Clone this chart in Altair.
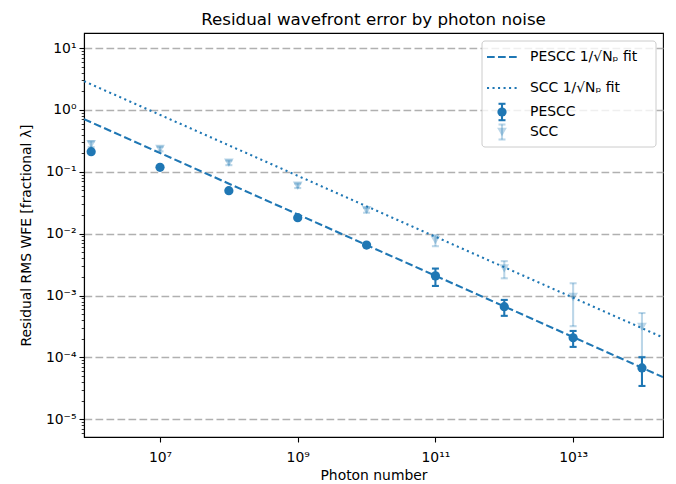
import altair as alt
import pandas as pd

# ---------------- data ----------------
photons = [1e6, 1e7, 1e8, 1e9, 1e10, 1e11, 1e12, 1e13, 1e14]
pescc_wfe = [0.211, 0.118, 0.0494, 0.0181, 0.00654, 0.00208, 0.00066, 0.000208, 0.0000676]
pescc_err = [0.006, 0.003, 0.0012, 0.0005, 0.0003, 0.00065, 0.00019, 0.00006, 0.000033]
scc_wfe = [0.28, 0.234, 0.14, 0.0596, 0.024, 0.00787, 0.00275, 0.00095, 0.000312]
scc_err = [0.03, 0.02, 0.012, 0.005, 0.0022, 0.0016, 0.00085, 0.00063, 0.00021]

fit_photons = [7.87e5, 2.02e14]
pescc_fit = [0.71, 4.8e-5]
scc_fit = [2.91, 2.1e-4]

legend_labels = ["PESCC 1/√Nₚ fit", "SCC 1/√Nₚ fit", "PESCC", "SCC"]
x_ticks = [1e7, 1e9, 1e11, 1e13]
y_major = [1e-5, 1e-4, 1e-3, 1e-2, 1e-1, 1e0, 1e1]
x_range = [7.87e5, 2.02e14]
y_range = [5.18e-6, 17.48]

# ---------------- styling ----------------
BLUE = "#1f77b4"
FONT = "DejaVu Sans"
SUP = {"0": "⁰", "1": "¹", "2": "²", "3": "³", "4": "⁴", "5": "⁵",
       "6": "⁶", "7": "⁷", "8": "⁸", "9": "⁹", "-": "⁻"}
DASH = [7.7, 3.3]
DOT = [2.08, 3.43]
LW = 2.08


def sup_label(e):
    return "10" + "".join(SUP[c] for c in str(e))


EXP = "round(log(datum.value)/LN10)"
MAJOR = f"abs(log(datum.value)/LN10 - {EXP}) < 1e-6"


def label_chain(exps):
    return " : ".join(f"{EXP} == {e} ? '{sup_label(e)}'" for e in exps) + " : ''"


x_exps = [7, 9, 11, 13]
y_exps = [-5, -4, -3, -2, -1, 0, 1]

y_ticks = []
for e in range(-6, 2):
    for m in range(1, 10):
        v = m * 10.0 ** e
        if y_range[0] <= v <= y_range[1]:
            y_ticks.append(v)

x_scale = alt.Scale(type="log", domain=x_range, nice=False)
y_scale = alt.Scale(type="log", domain=y_range, nice=False)

x_axis = alt.Axis(values=x_ticks, labelExpr=label_chain(x_exps), title="Photon number",
                  grid=False, tickSize=5, tickWidth=1.1, labelPadding=8, titlePadding=5)
y_axis = alt.Axis(values=y_ticks, labelExpr=f"{MAJOR} ? ({label_chain(y_exps)}) : ''",
                  title="Residual RMS WFE [fractional λ]",
                  grid=True, gridColor="#b0b0b0", gridDash=DASH, gridWidth=1.6,
                  gridOpacity={"condition": {"test": MAJOR, "value": 1}, "value": 0},
                  tickSize={"condition": {"test": MAJOR, "value": 5}, "value": 2.8},
                  tickWidth={"condition": {"test": MAJOR, "value": 1.1}, "value": 0.8},
                  labelPadding=3, titlePadding=12)

X = alt.X("N:Q", scale=x_scale, axis=x_axis)


def Y(field):
    return alt.Y(field, scale=y_scale, axis=y_axis)


pescc_df = pd.DataFrame({"N": photons, "wfe": pescc_wfe, "err": pescc_err})
pescc_df["lo"] = pescc_df["wfe"] - pescc_df["err"]
pescc_df["hi"] = pescc_df["wfe"] + pescc_df["err"]
scc_df = pd.DataFrame({"N": photons, "wfe": scc_wfe, "err": scc_err})
scc_df["lo"] = scc_df["wfe"] - scc_df["err"]
scc_df["hi"] = scc_df["wfe"] + scc_df["err"]
pescc_fit_df = pd.DataFrame({"N": fit_photons, "wfe": pescc_fit})
scc_fit_df = pd.DataFrame({"N": fit_photons, "wfe": scc_fit})

fit_p = alt.Chart(pescc_fit_df).mark_line(color=BLUE, strokeWidth=LW, strokeDash=DASH,
                                          clip=True).encode(x=X, y=Y("wfe:Q"))
fit_s = alt.Chart(scc_fit_df).mark_line(color=BLUE, strokeWidth=LW, strokeDash=DOT,
                                        clip=True).encode(x=X, y=Y("wfe:Q"))


def errorbar_layers(df, shape, size, opacity):
    bars = alt.Chart(df).mark_rule(color=BLUE, strokeWidth=LW, opacity=opacity).encode(
        x=X, y=Y("lo:Q"), y2="hi:Q")
    caps = alt.Chart(df).transform_fold(["lo", "hi"], as_=["end", "val"]).mark_tick(
        orient="horizontal", color=BLUE, size=7, thickness=LW, opacity=opacity).encode(
        x=X, y=Y("val:Q"))
    pts = alt.Chart(df).mark_point(filled=True, shape=shape, size=size, color=BLUE,
                                   opacity=opacity, strokeWidth=0).encode(x=X, y=Y("wfe:Q"))
    return [bars, caps, pts]


# ---------------- legend (drawn as a small overlay, positions in view pixels) ----------------
ONE = alt.Data(values=[{"k": 0}])


def hline(x1, x2, y, **style):
    return alt.Chart(ONE).mark_rule(color=BLUE, strokeWidth=LW, **style).encode(
        x=alt.value(x1), x2=alt.value(x2), y=alt.value(y))


def vline(x, y1, y2, **style):
    return alt.Chart(ONE).mark_rule(color=BLUE, strokeWidth=LW, **style).encode(
        x=alt.value(x), y=alt.value(y1), y2=alt.value(y2))


def dot(x, y, shape, size, opacity):
    return alt.Chart(ONE).mark_point(filled=True, shape=shape, size=size, color=BLUE,
                                     opacity=opacity, strokeWidth=0).encode(
        x=alt.value(x), y=alt.value(y))


def label(x, y, text):
    return alt.Chart(ONE).mark_text(align="left", baseline="middle", font=FONT,
                                    fontSize=13.9, color="black").encode(
        x=alt.value(x), y=alt.value(y), text=alt.value(text))


def err_icon(x, y, half, shape, size, opacity):
    return [vline(x, y - half, y + half, opacity=opacity),
            hline(x - 3.5, x + 3.5, y - half, opacity=opacity),
            hline(x - 3.5, x + 3.5, y + half, opacity=opacity),
            dot(x, y, shape, size, opacity)]


LX0, LX1, LY0, LY1 = 398, 572, 8, 114      # legend frame
SX, TX = 418, 446                          # symbol centre / text start
ROWS = [24, 55, 79, 99]                    # row centres

legend_box = alt.Chart(ONE).mark_rect(cornerRadius=3, fill="white", fillOpacity=0.8,
                                      stroke="#cccccc", strokeWidth=1).encode(
    x=alt.value(LX0), x2=alt.value(LX1), y=alt.value(LY0), y2=alt.value(LY1))

legend_layers = [legend_box,
                 hline(SX - 15, SX + 15, ROWS[0], strokeDash=DASH),
                 hline(SX - 15, SX + 15, ROWS[1], strokeDash=DOT)]
legend_layers += err_icon(SX, ROWS[2], 8.2, "circle", 85, 1)
legend_layers += err_icon(SX, ROWS[3], 7.5, "triangle-down", 95, 0.3)
legend_layers += [label(TX, r, t) for r, t in zip(ROWS, legend_labels)]

layers = [fit_p, fit_s] + errorbar_layers(pescc_df, "circle", 85, 1) + \
    errorbar_layers(scc_df, "triangle-down", 95, 0.3) + legend_layers

chart = alt.layer(*layers).properties(
    width=579, height=404,
    title=alt.TitleParams("Residual wavefront error by photon noise", fontSize=16.7,
                          fontWeight="normal", font=FONT, color="black", anchor="middle",
                          offset=4),
    autosize=alt.AutoSizeParams(type="none"),
    padding={"left": 84, "top": 33, "right": 13, "bottom": 47},
    background="white",
).configure_view(stroke="black", strokeWidth=1.1).configure_axis(
    labelFont=FONT, titleFont=FONT, labelFontSize=13.9, titleFontSize=13.9,
    titleFontWeight="normal", labelColor="black", titleColor="black",
    domainColor="black", domainWidth=1.1, tickColor="black",
)

chart.save("out.html", embed_options={"renderer": "svg", "actions": False})
